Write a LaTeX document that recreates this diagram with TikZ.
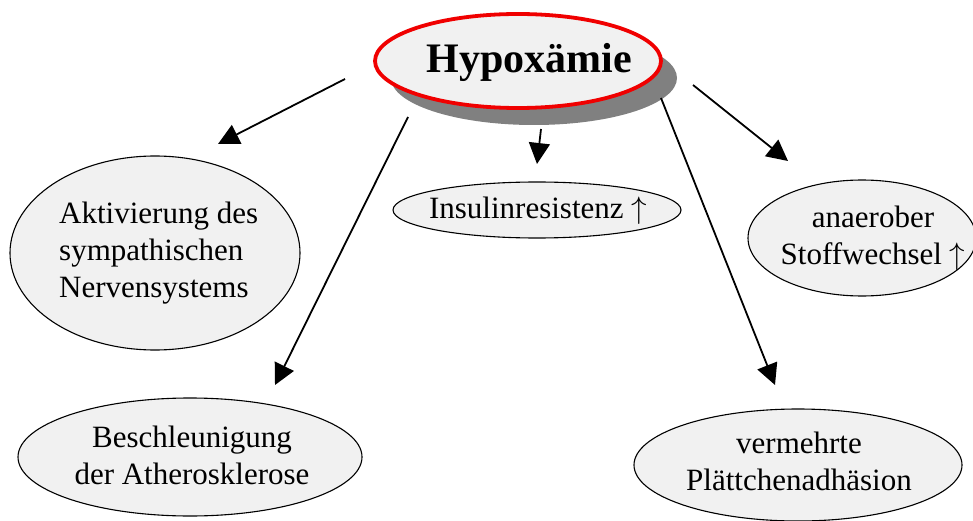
\documentclass[tikz,border=0pt]{standalone}
\usepackage{fix-cm}
\usepackage{fontspec}
\setmainfont{Liberation Serif}
\usetikzlibrary{shapes.geometric,arrows.meta}
\definecolor{bubble}{RGB}{241,241,241}
\definecolor{shadowgray}{RGB}{128,128,128}
\definecolor{hred}{RGB}{240,0,0}
\newcommand{\upar}{\ $\uparrow$}
\tikzset{
  bubblenode/.style={ellipse, draw=black, line width=1.1pt, fill=bubble, inner sep=0pt},
  txt/.style={inner sep=0pt, font=\fontsize{31}{37}\selectfont, align=center},
  conn/.style={line width=1.8pt, -{Triangle[length=21pt,width=21pt]}},
}
\begin{document}
\begin{tikzpicture}[x=1pt,y=-1pt]
\useasboundingbox (0,0) rectangle (973,521);
% shadow and title
\node[ellipse, fill=shadowgray, minimum width=286pt, minimum height=94pt, inner sep=0pt] (shadow) at (534,78) {};
\node[ellipse, draw=hred, line width=3.8pt, fill=bubble, minimum width=286pt, minimum height=94pt, inner sep=0pt] (hyp) at (518,61) {};
\node[font=\fontsize{42}{48}\bfseries\selectfont, inner sep=0pt] (hyptext) at (529,62) {Hypoxämie};
% outcome ellipses
\node[bubblenode, minimum width=290pt, minimum height=194pt] (akt) at (155,253) {};
\node[bubblenode, minimum width=288pt, minimum height=56pt] (ins) at (537,210) {};
\node[bubblenode, minimum width=228pt, minimum height=116pt] (ana) at (862,238) {};
\node[bubblenode, minimum width=344pt, minimum height=118pt] (bes) at (190,457) {};
\node[bubblenode, minimum width=328pt, minimum height=112pt] (ver) at (798,465) {};
% texts
\node[txt, align=left, anchor=west] (akttext) at (59,253) {Aktivierung des\\sympathischen\\Nervensystems};
\node[txt] (instext) at (538,211) {Insulinresistenz\upar};
\node[txt] (anatext) at (873,238) {anaerober\\Stoffwechsel\upar};
\node[txt] (bestext) at (192,455) {Beschleunigung\\der Atherosklerose};
\node[txt] (vertext) at (799,461) {vermehrte\\Plättchenadhäsion};
% connector coordinates (arrows float between the bubbles)
\coordinate (s1) at (345,79);  \coordinate (t1) at (218,144);
\coordinate (s2) at (408,117); \coordinate (t2) at (275,385);
\coordinate (s3) at (541,129); \coordinate (t3) at (537,164);
\coordinate (s4) at (661,98);  \coordinate (t4) at (775,385);
\coordinate (s5) at (693,85);  \coordinate (t5) at (788,161);
\draw[conn] (s1) -- (t1);
\draw[conn] (s2) -- (t2);
\draw[conn] (s3) -- (t3);
\draw[conn] (s4) -- (t4);
\draw[conn] (s5) -- (t5);
\end{tikzpicture}
\end{document}
